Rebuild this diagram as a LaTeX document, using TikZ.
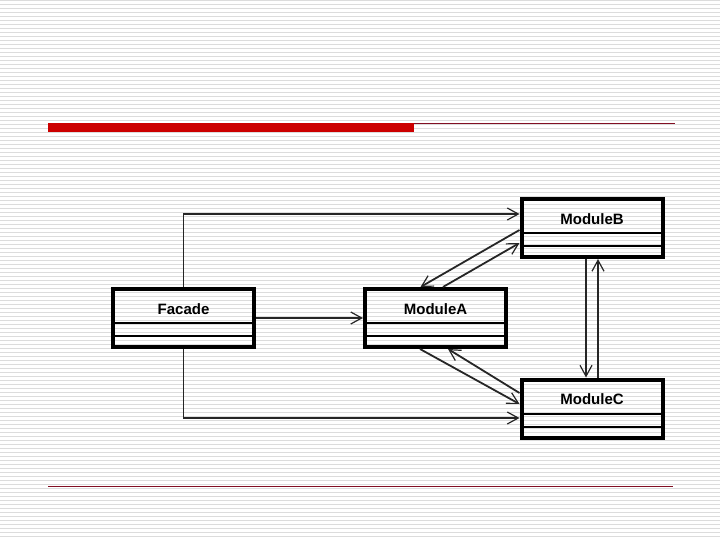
\documentclass[tikz,border=0pt]{standalone}
\usepackage{fontspec}
\setmainfont{Liberation Sans}
\usetikzlibrary{arrows.meta}

\definecolor{cinzalistra}{RGB}{220,220,220}
\definecolor{vermelho}{RGB}{204,0,0}
\definecolor{vinho}{RGB}{130,15,35}

\begin{document}
\begin{tikzpicture}[
  x=1pt, y=-1pt,
  classe/.style={rectangle, draw=black, line width=4pt,
                 minimum width=141pt, minimum height=58pt, inner sep=0pt,
                 font=\fontsize{15}{18}\selectfont\bfseries,
                 text height=11pt, text depth=18.4pt},
  divisor/.style={draw=black, line width=2pt},
  seta/.style={-{Straight Barb[length=11pt, width=12pt, line width=1.2pt]},
               line width=1.8pt, draw=black!85},
  fundo/.style={draw=cinzalistra, line width=1.3pt}
]
\useasboundingbox (0,0) rectangle (720,540);

% ---------------- Fundo listrado ----------------
\foreach \y in {0.7,4.7,...,540}
  \draw[fundo] (0,\y) -- (720,\y);

% ---------------- Barras do slide ----------------
\fill[vermelho] (48,123.3) rectangle (414,132.5);
\draw[vinho, line width=1pt] (414,123.5) -- (675,123.5);
\draw[vinho, line width=1pt] (48,486) -- (673,486);

% ---------------- Classes ----------------
\node[classe] (facade) at (183.5,318) {Facade};
\node[classe] (modA) at (435.5,318) {ModuleA};
\node[classe] (modB) at (592,228) {ModuleB};
\node[classe] (modC) at (592,408.5) {ModuleC};

\foreach \c in {facade,modA,modB,modC} {
  \draw[divisor] ([yshift=-36pt]\c.north west) -- ([yshift=-36pt]\c.north east);
  \draw[divisor] ([yshift=-49pt]\c.north west) -- ([yshift=-49pt]\c.north east);
}

% ---------------- Setas ----------------
\draw[seta] (facade.north) |- ([yshift=14pt]modB.west);
\draw[seta] (facade.south) |- ([yshift=-9.5pt]modC.west);
\draw[seta] (facade.east) -- (modA.west);

\draw[seta] ([yshift=-2pt]modB.west) -- ([xshift=-15pt]modA.north);
\draw[seta] ([xshift=7.5pt]modA.north) -- ([yshift=-15pt]modB.west);

\draw[seta] ([xshift=-15.5pt]modA.south) -- ([yshift=4.5pt]modC.west);
\draw[seta] ([yshift=15.5pt]modC.west) -- ([xshift=12.5pt]modA.south);

\draw[seta] ([xshift=-6pt]modB.south) -- ([xshift=-6pt]modC.north);
\draw[seta] ([xshift=6pt]modC.north) -- ([xshift=6pt]modB.south);

\end{tikzpicture}
\end{document}
